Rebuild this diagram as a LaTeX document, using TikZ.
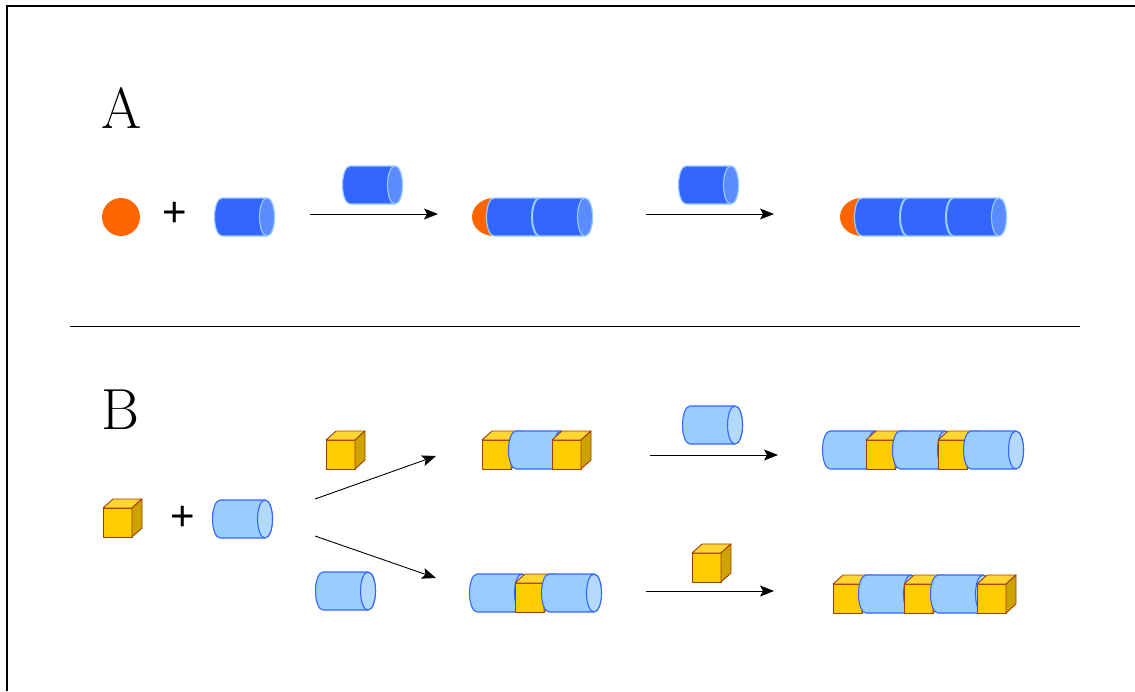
\documentclass[tikz,border=0pt]{standalone}
\usepackage{fontspec}
\newfontfamily\plusfont{Liberation Sans}
\usetikzlibrary{arrows.meta}
\definecolor{orangeball}{HTML}{FF6600}
\definecolor{darkbody}{HTML}{3366FF}
\definecolor{darkcap}{HTML}{5C8AFF}
\definecolor{darkline}{HTML}{99CCFF}
\definecolor{lightbody}{HTML}{99CCFF}
\definecolor{lightcap}{HTML}{B3D9FF}
\definecolor{lightline}{HTML}{3366FF}
\definecolor{cubefront}{HTML}{FFCC00}
\definecolor{cubetop}{HTML}{FFD633}
\definecolor{cubeside}{HTML}{CCA300}
\definecolor{cubeline}{HTML}{A33C00}
\tikzset{
  reaction/.style={line width=0.9pt,-{Stealth[length=14pt,width=11pt,inset=3pt]}},
  panelletter/.style={font=\fontsize{58}{60}\selectfont},
  plussign/.style={font=\plusfont\fontsize{42}{44}\selectfont},
  cylline/.style={line width=1.1pt,line join=round},
  cubeedge/.style={draw=cubeline,line width=0.9pt,line join=round},
}
% cylinder: #1 left end centre x, #2 centre y, #3 body, #4 cap, #5 outline
\newcommand\drawcyl[5]{%
  \filldraw[cylline,fill=#3,draw=#5] ({#1},{#2-19}) -- ({#1+45},{#2-19})
    arc[start angle=-90,end angle=90,x radius=7.5,y radius=19]
    -- ({#1},{#2+19})
    arc[start angle=90,end angle=270,x radius=7.5,y radius=19] -- cycle;
  \filldraw[cylline,fill=#4,draw=#5] ({#1+45},{#2}) ellipse[x radius=7.5,y radius=19];
}
\newcommand\darkcyl[2]{\drawcyl{#1}{#2}{darkbody}{darkcap}{darkline}}
\newcommand\lightcyl[2]{\drawcyl{#1}{#2}{lightbody}{lightcap}{lightline}}
% cube: #1 left edge of front face, #2 bottom edge
\newcommand\drawcube[2]{%
  \filldraw[cubeedge,fill=cubefront] ({#1},{#2}) rectangle ({#1+29},{#2-29});
  \filldraw[cubeedge,fill=cubetop] ({#1},{#2-29}) -- ({#1+10},{#2-38})
    -- ({#1+39},{#2-38}) -- ({#1+29},{#2-29}) -- cycle;
  \filldraw[cubeedge,fill=cubeside] ({#1+29},{#2}) -- ({#1+39},{#2-9})
    -- ({#1+39},{#2-38}) -- ({#1+29},{#2-29}) -- cycle;
}
% half ball capping a chain: #1 flat-side x, #2 centre y
\newcommand\halfball[2]{%
  \fill[orangeball] ({#1},{#2-19})
    arc[start angle=270,end angle=90,x radius=22,y radius=19] -- cycle;
}
\begin{document}
\begin{tikzpicture}[x=1pt,y=-1pt]
\useasboundingbox (0,0) rectangle (1135,691);
% frame
\draw[line width=1.4pt] (1135,6) -- (7,6) -- (7,691);
% divider between the panels
\draw[line width=0.8pt] (70,326) -- (1080,326);

% ---------- panel A ----------
\node[panelletter] (labA) at (122,108) {A};
\fill[orangeball] (121,217) circle[radius=19];
\node[plussign] (plusA) at (175,214) {+};
\darkcyl{222}{217}
\coordinate (a1s) at (310,214);
\coordinate (a1e) at (438,214);
\draw[reaction] (a1s) -- (a1e);
\darkcyl{350}{185}
\halfball{494}{217}
\darkcyl{494}{217}
\darkcyl{540}{217}
\coordinate (a2s) at (646,214);
\coordinate (a2e) at (774,214);
\draw[reaction] (a2s) -- (a2e);
\darkcyl{686}{185}
\halfball{862}{217}
\darkcyl{862}{217}
\darkcyl{908}{217}
\darkcyl{954}{217}

% ---------- panel B ----------
\node[panelletter] (labB) at (120,410) {B};
\drawcube{103}{537}
\node[plussign] (plusB) at (183,518) {+};
\lightcyl{220}{519}
\coordinate (b0u) at (315,499);
\coordinate (b1u) at (436,456);
\coordinate (b0d) at (315,536);
\coordinate (b1d) at (436,578);
\draw[reaction] (b0u) -- (b1u);
\draw[reaction] (b0d) -- (b1d);
\drawcube{326}{469}
\lightcyl{323}{591}

% upper branch
\drawcube{482}{469}
\lightcyl{516}{450}
\drawcube{552}{469}
\coordinate (b2s) at (650,455);
\coordinate (b2e) at (778,455);
\draw[reaction] (b2s) -- (b2e);
\lightcyl{690}{425}
\lightcyl{830}{450}
\drawcube{866}{469}
\lightcyl{900}{450}
\drawcube{938}{469}
\lightcyl{971}{450}

% lower branch
\lightcyl{477}{593}
\drawcube{515}{612}
\lightcyl{549}{593}
\coordinate (b3s) at (646,591);
\coordinate (b3e) at (774,591);
\draw[reaction] (b3s) -- (b3e);
\drawcube{692}{582}
\drawcube{833}{613}
\lightcyl{866}{594}
\drawcube{904}{613}
\lightcyl{938}{594}
\drawcube{977}{613}
\end{tikzpicture}
\end{document}
